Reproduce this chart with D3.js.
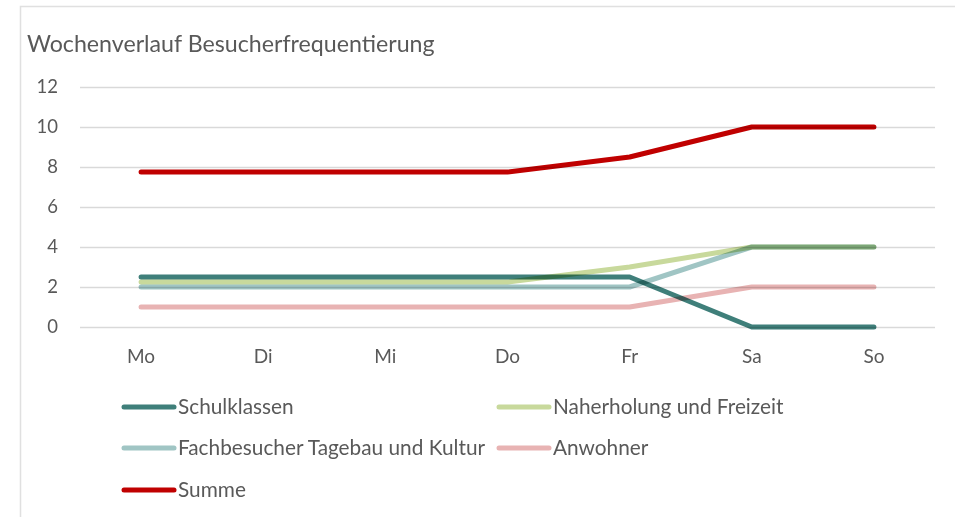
<!DOCTYPE html>
<html>
<head>
<meta charset="utf-8">
<script src="https://cdn.jsdelivr.net/npm/d3@7"></script>
<style>
    body { margin: 0; background: #fff; }
    svg { display: block; font-family: Lato, "Open Sans", sans-serif; }
    .line { mix-blend-mode: multiply; }
</style>
</head>
<body>
<div id="chart"></div>
<script>
// data
const days = ["Mo", "Di", "Mi", "Do", "Fr", "Sa", "So"];
const yTicks = [0, 2, 4, 6, 8, 10, 12];

const schulklassen = [2.5, 2.5, 2.5, 2.5, 2.5, 0, 0];
const naherholung = [2.25, 2.25, 2.25, 2.25, 3, 4, 4];
const fachbesucher = [2, 2, 2, 2, 2, 4, 4];
const anwohner = [1, 1, 1, 1, 1, 2, 2];
const summe = [7.75, 7.75, 7.75, 7.75, 8.5, 10, 10];

const seriesNames = ["Schulklassen", "Naherholung und Freizeit", "Fachbesucher Tagebau und Kultur", "Anwohner", "Summe"];
const seriesColors = ["#3f7f7a", "#c8d99c", "#a0c5c4", "#e8b3b3", "#c00000"];
const seriesValues = [schulklassen, naherholung, fachbesucher, anwohner, summe];

const width = 955, height = 517;
const margin = {top: 87, right: 20, bottom: 190, left: 80};
const innerW = 935 - margin.left;
const innerH = 327 - margin.top;
const textColor = "#595959";

const svg = d3.select("#chart").append("svg")
    .attr("width", width)
    .attr("height", height);

// chart frame
svg.append("rect")
    .attr("x", 20.5).attr("y", 6.5)
    .attr("width", 960).attr("height", 540)
    .attr("fill", "none")
    .attr("stroke", "#e0e0e0")
    .attr("stroke-width", 1.5);

svg.append("text")
    .attr("x", 27).attr("y", 52)
    .attr("fill", textColor)
    .style("font-size", "23.2px")
    .text("Wochenverlauf Besucherfrequentierung");

const g = svg.append("g")
    .attr("transform", "translate(" + margin.left + "," + margin.top + ")");

const x = d3.scaleBand().domain(days).range([0, innerW]);
const y = d3.scaleLinear().domain([0, 12]).range([innerH, 0]);

// gridlines
g.append("g")
    .selectAll("line")
    .data(yTicks)
    .join("line")
    .attr("x1", 0).attr("x2", innerW)
    .attr("y1", d => Math.round(y(d)) + 0.5)
    .attr("y2", d => Math.round(y(d)) + 0.5)
    .attr("stroke", "#d9d9d9")
    .attr("stroke-width", 1.5);

// y axis labels
const yAxis = g.append("g")
    .call(d3.axisLeft(y).tickValues(yTicks).tickSize(0).tickPadding(22));
yAxis.select(".domain").remove();
yAxis.selectAll("text")
    .attr("fill", textColor)
    .style("font-size", "18.5px")
    .style("font-family", "Lato, sans-serif");

// x axis labels
const xAxis = g.append("g")
    .attr("transform", "translate(0," + innerH + ")")
    .call(d3.axisBottom(x).tickSize(0).tickPadding(23));
xAxis.select(".domain").remove();
xAxis.selectAll("text")
    .attr("fill", textColor)
    .style("font-size", "19px")
    .style("font-family", "Lato, sans-serif");

const line = d3.line()
    .x((d, i) => x(days[i]) + x.bandwidth() / 2)
    .y(d => y(d));

g.selectAll(".line")
    .data(seriesValues)
    .join("path")
    .attr("class", "line")
    .attr("d", d => line(d))
    .attr("fill", "none")
    .attr("stroke", (d, i) => seriesColors[i])
    .attr("stroke-width", 5)
    .attr("stroke-linecap", "round")
    .attr("stroke-linejoin", "round");

// legend
const legendPos = [[122, 407], [497, 407], [122, 448], [497, 448], [122, 490]];
const legend = svg.append("g")
    .selectAll("g")
    .data(seriesNames)
    .join("g")
    .attr("transform", (d, i) => "translate(" + legendPos[i][0] + "," + legendPos[i][1] + ")");

legend.append("line")
    .attr("x1", 2).attr("x2", 52)
    .attr("y1", 0).attr("y2", 0)
    .attr("stroke", (d, i) => seriesColors[i])
    .attr("stroke-width", 5)
    .attr("stroke-linecap", "round");

legend.append("text")
    .attr("x", 56).attr("y", 0)
    .attr("dy", "0.35em")
    .attr("fill", textColor)
    .style("font-size", "20.8px")
    .text(d => d);
</script>
</body>
</html>
